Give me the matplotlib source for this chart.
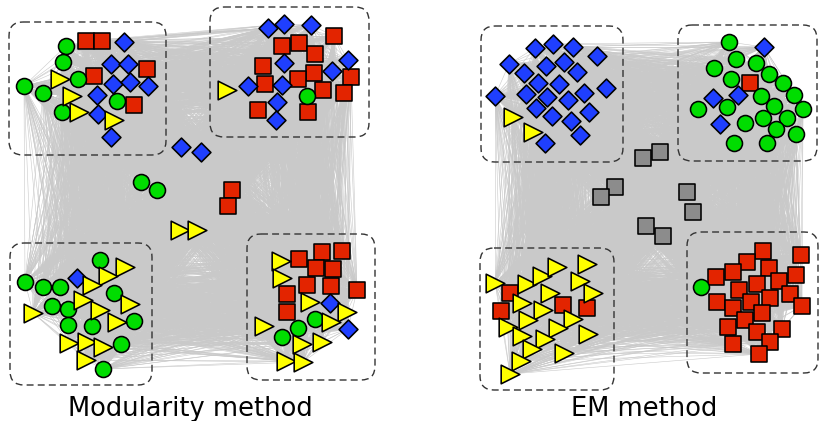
import itertools
import numpy as np
import matplotlib
matplotlib.use("Agg")
import matplotlib.pyplot as plt
from matplotlib.collections import LineCollection
from matplotlib.patches import FancyBboxPatch

# node positions (pixel coordinates, y downwards) for the two layouts

# --- modularity layout ---
mod_red = [(86, 41), (102, 41), (94, 76), (147, 69), (134, 105),
           (334, 36), (282, 46), (299, 43), (315, 54), (263, 66), (314, 73),
           (298, 79), (351, 77), (265, 84), (323, 90), (344, 93), (258, 110),
           (308, 112),
           (322, 252), (342, 251), (299, 259), (316, 268), (333, 269),
           (307, 285), (331, 286), (357, 290), (287, 294), (287, 312),
           (232, 190), (228, 206)]
mod_green = [(66, 46), (63, 62), (78, 79), (24, 86), (43, 93), (117, 101),
             (62, 112),
             (307, 96),
             (100, 260), (25, 282), (43, 287), (60, 287), (114, 293),
             (52, 306), (68, 309), (68, 325), (92, 326), (134, 321),
             (121, 344), (103, 369),
             (282, 337), (298, 328), (315, 319),
             (141, 182), (157, 190)]
mod_blue = [(124, 42), (111, 64), (128, 64), (113, 84), (130, 82), (148, 86),
            (97, 95), (98, 114), (111, 137),
            (268, 28), (284, 24), (311, 25), (284, 63), (348, 60), (332, 71),
            (248, 86), (282, 85), (277, 102), (276, 120),
            (77, 278),
            (330, 303), (348, 329),
            (181, 147), (201, 152)]
mod_yellow = [(60, 79), (72, 96), (79, 112), (114, 120),
              (227, 90),
              (125, 267), (108, 276), (92, 285), (83, 300), (130, 304),
              (33, 313), (100, 310), (117, 322), (69, 343), (87, 342),
              (103, 347), (86, 360),
              (281, 261), (282, 278), (310, 302), (347, 312), (331, 322),
              (264, 326), (302, 344), (322, 342), (286, 361), (303, 362),
              (180, 230), (197, 230)]
mod_gray = []
mod_boxes = [(9, 22, 166, 155), (210, 7, 369, 137),
             (10, 243, 152, 385), (247, 234, 375, 380)]

# --- EM layout ---
em_red = [(750, 83),
          (510, 293), (501, 311), (563, 305), (587, 308),
          (763, 251), (801, 255), (747, 262), (769, 268), (733, 272),
          (716, 277), (796, 275), (757, 284), (779, 281), (739, 290),
          (770, 298), (790, 294), (717, 302), (751, 302), (733, 308),
          (802, 306), (762, 313), (745, 320), (728, 327), (757, 332),
          (782, 329), (770, 342), (733, 344), (759, 354)]
em_green = [(729, 42), (736, 59), (714, 68), (731, 79), (756, 63), (769, 74),
            (783, 83), (794, 95), (761, 96), (774, 106), (803, 109),
            (698, 109), (727, 107), (745, 123), (763, 118), (787, 118),
            (776, 129), (796, 134), (734, 143), (767, 143),
            (701, 287)]
em_blue = [(535, 48), (553, 44), (573, 47), (597, 56), (509, 64), (524, 73),
           (546, 66), (564, 62), (577, 72), (538, 83), (559, 84), (495, 96),
           (526, 94), (547, 97), (568, 100), (584, 93), (606, 88), (536, 108),
           (552, 116), (571, 121), (589, 112), (580, 135), (545, 143),
           (764, 47), (713, 98), (738, 95), (720, 124)]
em_yellow = [(513, 117), (533, 132),
             (495, 283), (527, 284), (542, 276), (557, 267), (587, 264),
             (580, 281), (593, 293), (550, 293), (522, 303), (543, 310),
             (528, 320), (573, 319), (508, 327), (558, 328), (522, 336),
             (588, 334), (545, 339), (532, 349), (564, 353), (521, 361),
             (510, 374)]
em_gray = [(643, 158), (660, 152), (615, 187), (601, 197), (687, 192),
           (693, 212), (646, 226), (663, 236)]
em_boxes = [(481, 26, 623, 162), (678, 25, 817, 161),
            (480, 248, 614, 390), (687, 232, 818, 373)]

titles = ["Modularity method", "EM method"]
title_x = [190, 644]

RED = "#e32400"
GREEN = "#00dd00"
BLUE = "#1f3fff"
YELLOW = "#ffff00"
GRAY = "#8c8c8c"

fig = plt.figure(figsize=(8.21, 4.21), dpi=100)
ax = fig.add_axes([0, 0, 1, 1])
ax.set_xlim(0, 821)
ax.set_ylim(421, 0)
ax.axis("off")


def draw_panel(red, green, blue, yellow, gray, boxes):
    nodes = red + green + blue + yellow + gray
    segs = [[a, b] for a, b in itertools.combinations(nodes, 2)]
    ax.add_collection(LineCollection(segs, colors="#c9c9c9", linewidths=0.4,
                                     zorder=1))
    for x0, y0, x1, y1 in boxes:
        ax.add_patch(FancyBboxPatch((x0, y0), x1 - x0, y1 - y0,
                                    boxstyle="round,pad=0,rounding_size=14",
                                    fill=False, ec="#333333", lw=1.0,
                                    ls=(0, (5, 3)), zorder=2))
    styles = [(red, "s", RED, 138), (gray, "s", GRAY, 138),
              (green, "o", GREEN, 132), (blue, "D", BLUE, 92),
              (yellow, ">", YELLOW, 180)]
    for pts, mk, col, size in styles:
        if not pts:
            continue
        p = np.array(pts)
        ax.scatter(p[:, 0], p[:, 1], marker=mk, s=size, c=col,
                   edgecolors="black", linewidths=1.15, zorder=3)


draw_panel(mod_red, mod_green, mod_blue, mod_yellow, mod_gray, mod_boxes)
draw_panel(em_red, em_green, em_blue, em_yellow, em_gray, em_boxes)

for t, x in zip(titles, title_x):
    ax.text(x, 416, t, ha="center", va="baseline", fontsize=18.5,
            family="DejaVu Sans")

fig.savefig("out.png", dpi=100)
